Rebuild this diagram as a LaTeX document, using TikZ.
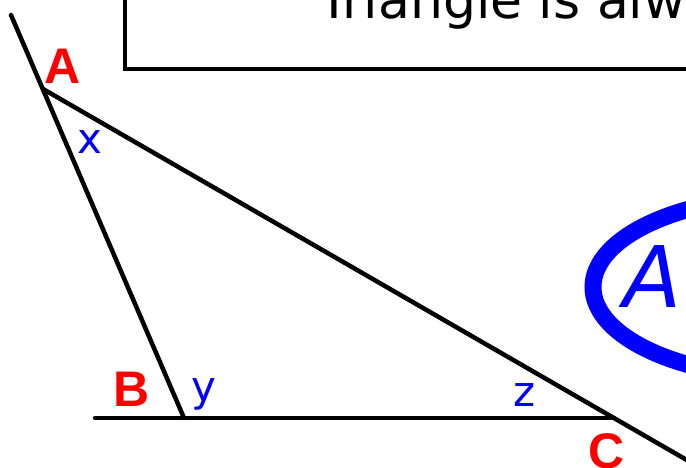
\documentclass[tikz,border=0pt]{standalone}
\usepackage{fontspec}
\setmainfont{DejaVu Sans}
\newfontfamily\vtxfont{Liberation Sans}
\newfontfamily\dvfont{DejaVu Sans}
\definecolor{vred}{RGB}{255,0,0}
\definecolor{vblue}{RGB}{0,0,255}
\begin{document}
\begin{tikzpicture}[x=1pt,y=-1pt,
  edge/.style={line width=4.5pt,line cap=round},
  vtx/.style={text=vred,inner sep=0pt,anchor=base,font=\vtxfont\bfseries\fontsize{50pt}{60pt}\selectfont},
  ang/.style={text=vblue,inner sep=0pt,anchor=center,font=\dvfont\fontsize{42pt}{50pt}\selectfont}]
\useasboundingbox (0,0) rectangle (686,467);
\clip (0,0) rectangle (686,467);
% title box
\draw[line width=4.5pt] (125,-10) rectangle (720,69);
\node[inner sep=0pt,anchor=base west,font=\dvfont\fontsize{52pt}{60pt}\selectfont] (title) at (318,18) {Triangle is always};
% ellipse
\draw[vblue,line width=17pt] (792,287) ellipse [x radius=199, y radius=91];
\node[text=vblue,inner sep=0pt,anchor=base west,font=\dvfont\itshape\fontsize{85pt}{95pt}\selectfont] (big) at (623,307) {A};
% triangle
\coordinate (Atop) at (11,15);
\coordinate (A) at (43,89);
\coordinate (B) at (184,418);
\coordinate (C) at (614,418);
\coordinate (Cend) at (692,463);
\coordinate (BL) at (95,418);
\draw[edge] (Atop) -- (B);
\draw[edge] (A) -- (Cend);
\draw[edge] (BL) -- (C);
% labels
\node[vtx] (la) at (63,83) {A};
\node[vtx] (lb) at (132,406) {B};
\node[vtx] (lc) at (607,468) {C};
\node[ang] (lx) at (90,142) {x};
\node[ang] (ly) at (204,394) {y};
\node[ang] (lz) at (525,395) {z};
\end{tikzpicture}
\end{document}
